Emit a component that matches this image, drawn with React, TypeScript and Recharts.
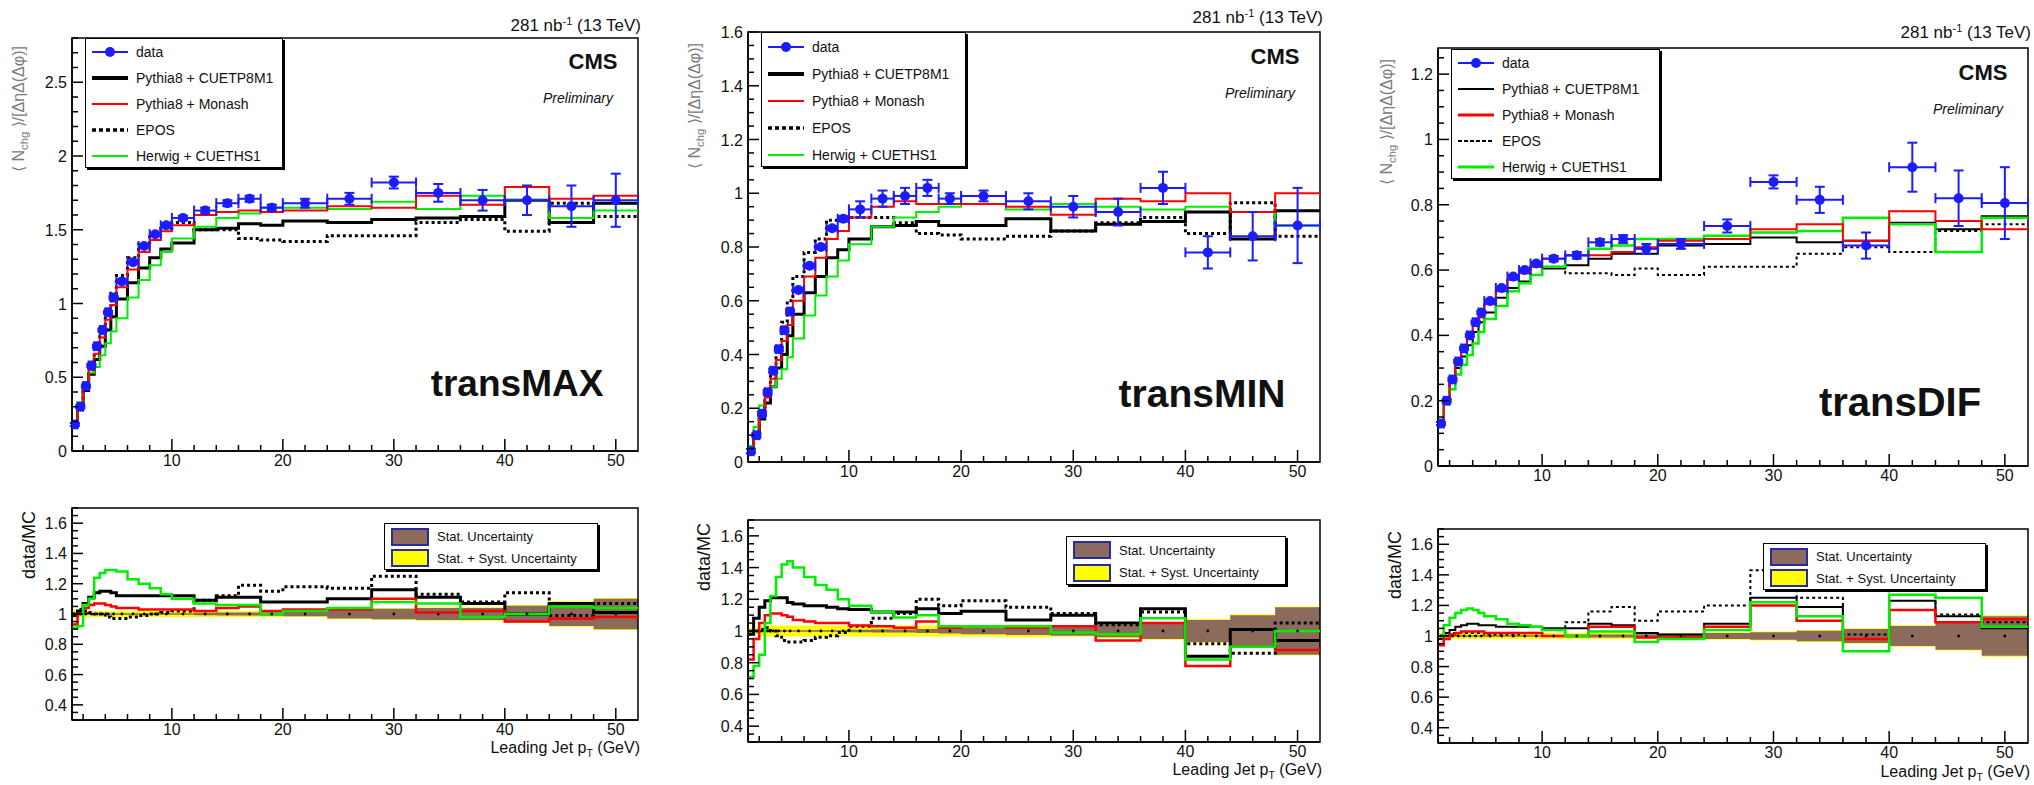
import React from "react";
import {
  ComposedChart,
  Line,
  Scatter,
  Area,
  XAxis,
  YAxis,
  ErrorBar,
  ReferenceArea,
} from "recharts";

const FONT = '"Liberation Sans", Arial, Helvetica, sans-serif';

// leading jet pT binning (GeV)
const binEdges = [1, 1.5, 2, 2.5, 3, 3.5, 4, 4.5, 5, 6, 7, 8, 9, 10, 12, 14, 16, 18, 20, 24, 28, 32, 36, 40, 44, 48, 52];
const binCenters = [1.25, 1.75, 2.25, 2.75, 3.25, 3.75, 4.25, 4.75, 5.5, 6.5, 7.5, 8.5, 9.5, 11, 13, 15, 17, 19, 22, 26, 30, 34, 38, 42, 46, 50];
const binHalfWidths = [0.25, 0.25, 0.25, 0.25, 0.25, 0.25, 0.25, 0.25, 0.5, 0.5, 0.5, 0.5, 0.5, 1, 1, 1, 1, 1, 2, 2, 2, 2, 2, 2, 2, 2];
const xTickLabels = [10, 20, 30, 40, 50];

// transMAX
const maxData = [0.18, 0.3, 0.44, 0.58, 0.71, 0.82, 0.94, 1.04, 1.15, 1.28, 1.39, 1.47, 1.53, 1.58, 1.63, 1.68, 1.71, 1.65, 1.68, 1.71, 1.82, 1.75, 1.7, 1.7, 1.66, 1.7];
const maxErr = [0.01, 0.01, 0.01, 0.01, 0.01, 0.01, 0.01, 0.01, 0.01, 0.01, 0.01, 0.01, 0.015, 0.015, 0.02, 0.02, 0.02, 0.02, 0.03, 0.04, 0.04, 0.06, 0.07, 0.1, 0.14, 0.18];
const maxCuetp = [0.18, 0.29, 0.41, 0.52, 0.62, 0.71, 0.82, 0.91, 1.03, 1.14, 1.24, 1.31, 1.37, 1.41, 1.5, 1.51, 1.54, 1.53, 1.56, 1.55, 1.57, 1.58, 1.59, 1.7, 1.55, 1.68];
const maxMonash = [0.19, 0.3, 0.42, 0.55, 0.66, 0.77, 0.89, 0.99, 1.11, 1.23, 1.35, 1.43, 1.49, 1.53, 1.6, 1.62, 1.63, 1.62, 1.63, 1.66, 1.65, 1.73, 1.67, 1.79, 1.71, 1.73];
const maxEpos = [0.18, 0.29, 0.43, 0.57, 0.71, 0.82, 0.96, 1.07, 1.19, 1.31, 1.4, 1.47, 1.51, 1.55, 1.5, 1.5, 1.44, 1.43, 1.42, 1.46, 1.46, 1.55, 1.57, 1.49, 1.68, 1.59];
const maxHerwig = [0.2, 0.33, 0.42, 0.53, 0.57, 0.65, 0.73, 0.81, 0.9, 1.04, 1.16, 1.26, 1.35, 1.44, 1.52, 1.58, 1.61, 1.65, 1.65, 1.64, 1.69, 1.64, 1.73, 1.7, 1.58, 1.63];
const maxRatioCuetp = [0.99, 1.02, 1.07, 1.11, 1.14, 1.15, 1.15, 1.14, 1.12, 1.12, 1.12, 1.12, 1.12, 1.12, 1.09, 1.11, 1.11, 1.08, 1.08, 1.1, 1.16, 1.11, 1.07, 1.0, 1.07, 1.01];
const maxRatioMonash = [0.93, 1.0, 1.04, 1.06, 1.07, 1.07, 1.06, 1.05, 1.04, 1.04, 1.03, 1.03, 1.03, 1.03, 1.02, 1.04, 1.05, 1.02, 1.03, 1.03, 1.1, 1.01, 1.02, 0.95, 0.97, 0.98];
const maxRatioEpos = [1.0, 1.03, 1.02, 1.01, 1.0, 1.0, 0.98, 0.97, 0.97, 0.98, 0.99, 1.0, 1.01, 1.02, 1.09, 1.12, 1.19, 1.15, 1.18, 1.17, 1.25, 1.13, 1.08, 1.14, 0.99, 1.07];
const maxRatioHerwig = [0.91, 0.92, 1.06, 1.1, 1.24, 1.27, 1.29, 1.29, 1.28, 1.23, 1.2, 1.17, 1.13, 1.1, 1.07, 1.06, 1.06, 1.0, 1.02, 1.04, 1.08, 1.07, 0.98, 1.0, 1.05, 1.04];
const maxStat = [0.005, 0.005, 0.005, 0.005, 0.005, 0.005, 0.005, 0.005, 0.005, 0.005, 0.005, 0.005, 0.005, 0.005, 0.008, 0.01, 0.01, 0.012, 0.015, 0.03, 0.035, 0.04, 0.04, 0.055, 0.08, 0.1];
const maxTotal = [0.03, 0.02, 0.02, 0.02, 0.02, 0.02, 0.02, 0.02, 0.02, 0.02, 0.02, 0.02, 0.02, 0.02, 0.02, 0.02, 0.02, 0.02, 0.02, 0.035, 0.04, 0.045, 0.045, 0.06, 0.085, 0.105];

// transMIN
const minData = [0.04, 0.1, 0.18, 0.26, 0.34, 0.42, 0.49, 0.56, 0.64, 0.73, 0.8, 0.87, 0.905, 0.94, 0.98, 0.99, 1.02, 0.98, 0.99, 0.97, 0.95, 0.93, 1.02, 0.78, 0.84, 0.88];
const minErr = [0.008, 0.008, 0.008, 0.008, 0.008, 0.008, 0.008, 0.008, 0.008, 0.008, 0.008, 0.008, 0.01, 0.03, 0.03, 0.03, 0.03, 0.02, 0.02, 0.03, 0.04, 0.05, 0.06, 0.06, 0.09, 0.14];
const minCuetp = [0.04, 0.09, 0.16, 0.22, 0.28, 0.35, 0.4, 0.47, 0.55, 0.63, 0.69, 0.76, 0.79, 0.83, 0.875, 0.88, 0.895, 0.88, 0.88, 0.905, 0.86, 0.885, 0.895, 0.93, 0.83, 0.935];
const minMonash = [0.05, 0.105, 0.17, 0.24, 0.31, 0.38, 0.45, 0.51, 0.6, 0.69, 0.76, 0.83, 0.86, 0.91, 0.95, 0.97, 0.96, 0.96, 0.96, 0.95, 0.92, 0.98, 0.97, 1.0, 0.93, 1.0];
const minEpos = [0.04, 0.1, 0.18, 0.25, 0.34, 0.43, 0.52, 0.6, 0.69, 0.78, 0.83, 0.9, 0.91, 0.91, 0.91, 0.89, 0.85, 0.845, 0.83, 0.84, 0.86, 0.89, 0.91, 0.85, 0.965, 0.84];
const minHerwig = [0.06, 0.13, 0.21, 0.25, 0.28, 0.31, 0.345, 0.39, 0.46, 0.545, 0.62, 0.69, 0.75, 0.81, 0.875, 0.91, 0.93, 0.95, 0.96, 0.94, 0.96, 0.95, 0.94, 0.95, 0.93, 0.88];
const minRatioCuetp = [0.98, 1.08, 1.15, 1.19, 1.21, 1.21, 1.21, 1.18, 1.17, 1.16, 1.16, 1.15, 1.14, 1.135, 1.12, 1.12, 1.14, 1.11, 1.125, 1.07, 1.1, 1.05, 1.14, 0.84, 1.01, 0.94];
const minRatioMonash = [0.82, 0.95, 1.05, 1.1, 1.11, 1.11, 1.1, 1.09, 1.07, 1.06, 1.05, 1.05, 1.05, 1.035, 1.03, 1.02, 1.06, 1.02, 1.03, 1.02, 1.03, 0.94, 1.05, 0.78, 0.9, 0.88];
const minRatioEpos = [0.98, 1.0, 1.01, 1.02, 1.0, 0.97, 0.94, 0.93, 0.93, 0.94, 0.96, 0.97, 0.99, 1.03, 1.08, 1.11, 1.2, 1.16, 1.19, 1.15, 1.11, 1.04, 1.12, 0.92, 0.86, 1.05];
const minRatioHerwig = [0.71, 0.78, 0.85, 1.05, 1.22, 1.34, 1.42, 1.44, 1.4, 1.34, 1.29, 1.26, 1.2, 1.16, 1.12, 1.085, 1.1, 1.03, 1.03, 1.03, 0.99, 0.98, 1.08, 0.82, 0.9, 1.0];
const minStat = [0.005, 0.005, 0.005, 0.005, 0.005, 0.005, 0.005, 0.005, 0.005, 0.005, 0.005, 0.005, 0.005, 0.008, 0.01, 0.01, 0.012, 0.015, 0.02, 0.025, 0.03, 0.04, 0.05, 0.07, 0.1, 0.15];
const minTotal = [0.02, 0.02, 0.035, 0.035, 0.035, 0.035, 0.035, 0.035, 0.035, 0.035, 0.035, 0.035, 0.035, 0.035, 0.035, 0.035, 0.035, 0.035, 0.035, 0.04, 0.035, 0.045, 0.055, 0.075, 0.105, 0.155];

// transDIF
const difData = [0.13, 0.2, 0.265, 0.32, 0.36, 0.4, 0.44, 0.47, 0.505, 0.545, 0.58, 0.6, 0.62, 0.635, 0.645, 0.685, 0.695, 0.665, 0.68, 0.735, 0.87, 0.815, 0.675, 0.915, 0.82, 0.805];
const difErr = [0.005, 0.005, 0.005, 0.005, 0.005, 0.005, 0.005, 0.005, 0.005, 0.005, 0.005, 0.005, 0.005, 0.008, 0.01, 0.01, 0.012, 0.015, 0.015, 0.02, 0.02, 0.04, 0.04, 0.075, 0.085, 0.11];
const difCuetp = [0.13, 0.195, 0.255, 0.3, 0.335, 0.37, 0.41, 0.44, 0.47, 0.515, 0.545, 0.565, 0.585, 0.605, 0.615, 0.635, 0.65, 0.65, 0.675, 0.68, 0.7, 0.685, 0.69, 0.745, 0.725, 0.765];
const difMonash = [0.14, 0.205, 0.26, 0.315, 0.35, 0.39, 0.43, 0.455, 0.495, 0.535, 0.57, 0.59, 0.61, 0.635, 0.645, 0.645, 0.655, 0.67, 0.69, 0.695, 0.725, 0.74, 0.69, 0.78, 0.75, 0.725];
const difEpos = [0.13, 0.2, 0.26, 0.315, 0.355, 0.39, 0.43, 0.46, 0.5, 0.54, 0.575, 0.59, 0.61, 0.61, 0.59, 0.59, 0.585, 0.605, 0.585, 0.61, 0.61, 0.65, 0.67, 0.655, 0.72, 0.74];
const difHerwig = [0.13, 0.19, 0.235, 0.28, 0.31, 0.34, 0.375, 0.41, 0.45, 0.49, 0.535, 0.56, 0.585, 0.61, 0.645, 0.665, 0.675, 0.695, 0.695, 0.705, 0.715, 0.72, 0.76, 0.74, 0.655, 0.76];
const difRatioCuetp = [0.98, 1.02, 1.04, 1.06, 1.07, 1.08, 1.08, 1.07, 1.07, 1.06, 1.06, 1.06, 1.06, 1.05, 1.05, 1.08, 1.07, 1.02, 1.01, 1.08, 1.25, 1.19, 0.98, 1.23, 1.13, 1.05];
const difRatioMonash = [0.94, 0.98, 1.01, 1.02, 1.03, 1.03, 1.03, 1.03, 1.02, 1.02, 1.02, 1.02, 1.02, 1.0, 1.0, 1.06, 1.06, 0.99, 0.99, 1.06, 1.2, 1.1, 0.98, 1.17, 1.09, 1.11];
const difRatioEpos = [1.0, 1.01, 1.02, 1.02, 1.02, 1.02, 1.02, 1.02, 1.01, 1.01, 1.01, 1.02, 1.02, 1.04, 1.09, 1.16, 1.19, 1.1, 1.16, 1.2, 1.43, 1.25, 1.01, 1.4, 1.14, 1.09];
const difRatioHerwig = [1.0, 1.07, 1.12, 1.15, 1.17, 1.18, 1.17, 1.15, 1.13, 1.11, 1.08, 1.07, 1.06, 1.04, 1.0, 1.03, 1.03, 0.96, 0.98, 1.04, 1.22, 1.13, 0.9, 1.27, 1.25, 1.06];
const difStat = [0.005, 0.005, 0.005, 0.005, 0.005, 0.005, 0.005, 0.005, 0.005, 0.005, 0.005, 0.005, 0.005, 0.005, 0.008, 0.01, 0.01, 0.012, 0.015, 0.02, 0.025, 0.035, 0.045, 0.065, 0.09, 0.13];
const difTotal = [0.02, 0.02, 0.02, 0.02, 0.02, 0.02, 0.02, 0.02, 0.02, 0.02, 0.02, 0.02, 0.02, 0.02, 0.02, 0.02, 0.02, 0.02, 0.02, 0.025, 0.03, 0.04, 0.05, 0.07, 0.095, 0.135];

const ratioTickLabels = [0.4, 0.6, 0.8, 1, 1.2, 1.4, 1.6];

const COLORS = { data: "#1c1cff", cuetp: "#000000", monash: "#ff0000", epos: "#000000", herwig: "#00ee00", stat: "#8c6b5c", total: "#ffff00" };

const range = (a: number, b: number, step: number) => {
  const out: number[] = [];
  for (let v = a; v <= b + 1e-9; v += step) out.push(Math.round(v * 1000) / 1000);
  return out;
};
const isIn = (list: number[], v: number) => list.some((m) => Math.abs(m - v) < 1e-6);

const stepRows = (vals: number[]) => binEdges.map((x, i) => ({ x, y: vals[Math.min(i, vals.length - 1)] }));
const bandRows = (half: number[]) =>
  binEdges.map((x, i) => {
    const h = half[Math.min(i, half.length - 1)];
    return { x, band: [1 - h, 1 + h] };
  });
const pointRows = (vals: number[], errs: number[]) =>
  binCenters.map((x, i) => ({ x, y: vals[i], ex: binHalfWidths[i], ey: errs[i] }));
const unityRows = binCenters.map((x) => ({ x, y: 1 }));

const xTick = (props: any) => {
  const { x, y, payload } = props;
  const major = isIn(xTickLabels, payload.value);
  return (
    <g>
      <line x1={x} x2={x} y1={y} y2={y - (major ? 12 : 6)} stroke="#000" strokeWidth={1.5} />
      {major && (
        <text x={x} y={y + 15} textAnchor="middle" fontSize={16} fontFamily={FONT} fill="#111">
          {payload.value}
        </text>
      )}
    </g>
  );
};

const makeYTick = (labels: number[]) => (props: any) => {
  const { x, y, payload } = props;
  const major = isIn(labels, payload.value);
  return (
    <g>
      <line x1={x} x2={x + (major ? 11 : 6)} y1={y} y2={y} stroke="#000" strokeWidth={1.5} />
      {major && (
        <text x={x - 5} y={y + 6} textAnchor="end" fontSize={16} fontFamily={FONT} fill="#111">
          {payload.value}
        </text>
      )}
    </g>
  );
};

type Frame = { left: number; right: number; top: number; bottom: number };

function Plot({ frame, yDomain, yLabels, yStep, children }: { frame: Frame; yDomain: [number, number]; yLabels: number[]; yStep: number; children: React.ReactNode }) {
  const w = frame.right - frame.left;
  const h = frame.bottom - frame.top;
  const yTicks = range(Math.ceil(yDomain[0] / yStep) * yStep, yDomain[1], yStep);
  return (
    <div style={{ position: "absolute", left: frame.left - 60, top: frame.top - 10 }}>
      <ComposedChart width={w + 64} height={h + 40} margin={{ top: 10, right: 4, bottom: 0, left: 0 }}>
        <XAxis
          type="number"
          dataKey="x"
          domain={[1, 52]}
          allowDataOverflow
          ticks={range(2, 50, 2)}
          interval={0}
          tickSize={0}
          tickMargin={0}
          tickLine={false}
          tick={xTick}
          height={30}
          axisLine={{ stroke: "#000", strokeWidth: 1.5 }}
        />
        <YAxis
          type="number"
          domain={yDomain}
          allowDataOverflow
          ticks={yTicks}
          interval={0}
          tickSize={0}
          tickMargin={0}
          tickLine={false}
          tick={makeYTick(yLabels)}
          width={60}
          axisLine={{ stroke: "#000", strokeWidth: 1.5 }}
        />
        {children}
        <ReferenceArea x1={1} x2={52} y1={yDomain[0]} y2={yDomain[1]} fill="none" fillOpacity={0} stroke="#000" strokeWidth={1.5} ifOverflow="visible" />
      </ComposedChart>
    </div>
  );
}

const stepLine = (vals: number[], color: string, width: number, dash?: string) => (
  <Line
    data={stepRows(vals)}
    dataKey="y"
    type="stepAfter"
    stroke={color}
    strokeWidth={width}
    strokeDasharray={dash}
    dot={false}
    activeDot={false}
    isAnimationActive={false}
  />
);

function MainLegend({ left, top, width, height, thin }: { left: number; top: number; width: number; height: number; thin?: boolean }) {
  const rows: { label: string; sw: React.ReactNode }[] = [
    {
      label: "data",
      sw: (
        <>
          <line x1={2} x2={38} y1={7} y2={7} stroke={COLORS.data} strokeWidth={2} />
          <circle cx={20} cy={7} r={5} fill={COLORS.data} />
        </>
      ),
    },
    { label: "Pythia8 + CUETP8M1", sw: <line x1={2} x2={38} y1={7} y2={7} stroke="#000" strokeWidth={thin ? 2 : 4} /> },
    { label: "Pythia8 + Monash", sw: <line x1={2} x2={38} y1={7} y2={7} stroke={COLORS.monash} strokeWidth={thin ? 3 : 2} /> },
    { label: "EPOS", sw: <line x1={2} x2={38} y1={7} y2={7} stroke="#000" strokeWidth={thin ? 2 : 3.5} strokeDasharray={thin ? "4 2" : "4 3"} /> },
    { label: "Herwig + CUETHS1", sw: <line x1={2} x2={38} y1={7} y2={7} stroke={COLORS.herwig} strokeWidth={thin ? 3 : 2} /> },
  ];
  const rowH = height / rows.length;
  return (
    <div style={{ position: "absolute", left, top, width, height, background: "#fff", border: "1.5px solid #000", boxShadow: "2px 2px 0 #000", boxSizing: "border-box" }}>
      {rows.map((r, i) => (
        <div key={r.label} style={{ position: "absolute", left: 4, top: i * rowH + rowH / 2 - 8, height: 16, display: "flex", alignItems: "center", whiteSpace: "nowrap" }}>
          <svg width={40} height={14} style={{ marginRight: 6 }}>{r.sw}</svg>
          <span style={{ fontSize: 14, fontFamily: FONT, color: "#111" }}>{r.label}</span>
        </div>
      ))}
    </div>
  );
}

function RatioLegend({ left, top, width, height }: { left: number; top: number; width: number; height: number }) {
  const rows = [
    { label: "Stat. Uncertainty", color: COLORS.stat },
    { label: "Stat. + Syst. Uncertainty", color: COLORS.total },
  ];
  const rowH = (height - 4) / 2;
  return (
    <div style={{ position: "absolute", left, top, width, height, background: "#fff", border: "1.5px solid #000", boxShadow: "2px 2px 0 #000", boxSizing: "border-box" }}>
      {rows.map((r, i) => (
        <div key={r.label} style={{ position: "absolute", left: 6, top: 2 + i * rowH + rowH / 2 - 9, height: 18, display: "flex", alignItems: "center", whiteSpace: "nowrap" }}>
          <div style={{ width: 34, height: 14, background: r.color, border: "2px solid #2a2aa0", marginRight: 8 }} />
          <span style={{ fontSize: 13, fontFamily: FONT, color: "#111" }}>{r.label}</span>
        </div>
      ))}
    </div>
  );
}

const Txt = ({ x, y, size, children, align = "center", weight, italic, color = "#111" }: any) => {
  const tx = align === "center" ? "-50%" : align === "right" ? "-100%" : "0";
  return (
    <div
      style={{
        position: "absolute",
        left: x,
        top: y,
        transform: `translate(${tx}, -50%)`,
        fontSize: size,
        fontFamily: FONT,
        fontWeight: weight,
        fontStyle: italic ? "italic" : undefined,
        color,
        whiteSpace: "nowrap",
        lineHeight: 1,
      }}
    >
      {children}
    </div>
  );
};

const RotTxt = ({ x, y, size, children, color = "#111" }: any) => (
  <div
    style={{
      position: "absolute",
      left: x,
      top: y,
      transform: "translate(-50%, -50%) rotate(-90deg)",
      fontSize: size,
      fontFamily: FONT,
      color,
      whiteSpace: "nowrap",
      lineHeight: 1,
    }}
  >
    {children}
  </div>
);

const NchgTitle = () => (
  <span>
    ⟨ N<sub style={{ fontSize: "70%" }}>chg</sub> ⟩/[ΔηΔ(Δφ)]
  </span>
);

type PanelSpec = {
  name: string;
  nameSize: number;
  main: Frame;
  ratio: Frame;
  yMax: number;
  yLabels: number[];
  yStep: number;
  data: number[];
  err: number[];
  cuetp: number[];
  monash: number[];
  epos: number[];
  herwig: number[];
  rCuetp: number[];
  rMonash: number[];
  rEpos: number[];
  rHerwig: number[];
  stat: number[];
  total: number[];
  thin?: boolean;
  lumiY: number;
  cmsY: number;
  nameX: number;
  nameY: number;
  legend: { left: number; top: number; width: number; height: number };
  rLegend: { left: number; top: number; width: number; height: number };
  yTitle: { x: number; y: number };
  rTitle: { x: number; y: number };
  xTitleY: number;
};

const panels: PanelSpec[] = [
  {
    name: "transMAX", nameSize: 37,
    main: { left: 72, right: 638, top: 38, bottom: 451 },
    ratio: { left: 72, right: 638, top: 508, bottom: 720 },
    yMax: 2.8, yLabels: [0, 0.5, 1, 1.5, 2, 2.5], yStep: 0.1,
    data: maxData, err: maxErr, cuetp: maxCuetp, monash: maxMonash, epos: maxEpos, herwig: maxHerwig,
    rCuetp: maxRatioCuetp, rMonash: maxRatioMonash, rEpos: maxRatioEpos, rHerwig: maxRatioHerwig,
    stat: maxStat, total: maxTotal,
    lumiY: 25, cmsY: 62, nameX: 517, nameY: 383,
    legend: { left: 85, top: 38, width: 198, height: 130 },
    rLegend: { left: 384, top: 523, width: 214, height: 47 },
    yTitle: { x: 21, y: 109 }, rTitle: { x: 29, y: 545 }, xTitleY: 750,
  },
  {
    name: "transMIN", nameSize: 39,
    main: { left: 748, right: 1320, top: 32, bottom: 462 },
    ratio: { left: 748, right: 1320, top: 520, bottom: 742 },
    yMax: 1.6, yLabels: [0, 0.2, 0.4, 0.6, 0.8, 1, 1.2, 1.4, 1.6], yStep: 0.05,
    data: minData, err: minErr, cuetp: minCuetp, monash: minMonash, epos: minEpos, herwig: minHerwig,
    rCuetp: minRatioCuetp, rMonash: minRatioMonash, rEpos: minRatioEpos, rHerwig: minRatioHerwig,
    stat: minStat, total: minTotal,
    lumiY: 17, cmsY: 57, nameX: 1202, nameY: 393,
    legend: { left: 761, top: 32, width: 205, height: 135 },
    rLegend: { left: 1066, top: 536, width: 220, height: 49 },
    yTitle: { x: 697, y: 106 }, rTitle: { x: 704, y: 557 }, xTitleY: 772,
  },
  {
    name: "transDIF", nameSize: 40,
    main: { left: 1438, right: 2028, top: 48, bottom: 466 },
    ratio: { left: 1438, right: 2028, top: 529, bottom: 743 },
    yMax: 1.28, yLabels: [0, 0.2, 0.4, 0.6, 0.8, 1, 1.2], yStep: 0.05,
    data: difData, err: difErr, cuetp: difCuetp, monash: difMonash, epos: difEpos, herwig: difHerwig,
    rCuetp: difRatioCuetp, rMonash: difRatioMonash, rEpos: difRatioEpos, rHerwig: difRatioHerwig,
    stat: difStat, total: difTotal, thin: true,
    lumiY: 32, cmsY: 73, nameX: 1900, nameY: 402,
    legend: { left: 1451, top: 49, width: 209, height: 130 },
    rLegend: { left: 1763, top: 543, width: 223, height: 47 },
    yTitle: { x: 1389, y: 122 }, rTitle: { x: 1395, y: 565 }, xTitleY: 774,
  },
];

function Panel({ p }: { p: PanelSpec }) {
  const blackW = p.thin ? 2 : 3;
  return (
    <>
      <Plot frame={p.main} yDomain={[0, p.yMax]} yLabels={p.yLabels} yStep={p.yStep}>
        {stepLine(p.epos, COLORS.epos, p.thin ? 2 : 3, "3 3")}
        {stepLine(p.cuetp, COLORS.cuetp, blackW)}
        {stepLine(p.herwig, COLORS.herwig, p.thin ? 2.5 : 2)}
        {stepLine(p.monash, COLORS.monash, 2)}
        <Scatter
          data={pointRows(p.data, p.err)}
          dataKey="y"
          isAnimationActive={false}
          shape={(s: any) => <circle cx={s.cx} cy={s.cy} r={5} fill={COLORS.data} />}
        >
          <ErrorBar dataKey="ex" direction="x" width={5} stroke={COLORS.data} strokeWidth={2} isAnimationActive={false} />
          <ErrorBar dataKey="ey" direction="y" width={5} stroke={COLORS.data} strokeWidth={2} isAnimationActive={false} />
        </Scatter>
      </Plot>
      <Plot frame={p.ratio} yDomain={[0.3, 1.7]} yLabels={ratioTickLabels} yStep={0.05}>
        <Area data={bandRows(p.total)} dataKey="band" type="stepAfter" fill={COLORS.total} fillOpacity={1} stroke="none" isAnimationActive={false} />
        <Area data={bandRows(p.stat)} dataKey="band" type="stepAfter" fill={COLORS.stat} fillOpacity={1} stroke="none" isAnimationActive={false} />
        <Scatter data={unityRows} dataKey="y" isAnimationActive={false} shape={(s: any) => <circle cx={s.cx} cy={s.cy} r={1.4} fill="#000" />} />
        {stepLine(p.rEpos, COLORS.epos, p.thin ? 2 : 3, "3 3")}
        {stepLine(p.rCuetp, COLORS.cuetp, blackW)}
        {stepLine(p.rMonash, COLORS.monash, 2.5)}
        {stepLine(p.rHerwig, COLORS.herwig, 2.5)}
      </Plot>
      <MainLegend {...p.legend} thin={p.thin} />
      <RatioLegend {...p.rLegend} />
      <Txt x={p.main.right + 3} y={p.lumiY} size={17} align="right">
        281 nb<sup style={{ fontSize: "65%" }}>-1</sup> (13 TeV)
      </Txt>
      <Txt x={p.main.right - 45} y={p.cmsY} size={22} weight="bold" align="center">CMS</Txt>
      <Txt x={p.main.right - 60} y={p.cmsY + 36} size={14} italic align="center">Preliminary</Txt>
      <Txt x={p.nameX} y={p.nameY} size={p.nameSize} weight="bold" align="center">{p.name}</Txt>
      <RotTxt x={p.yTitle.x} y={p.yTitle.y} size={16} color="#7a7a7a">
        <NchgTitle />
      </RotTxt>
      <RotTxt x={p.rTitle.x} y={p.rTitle.y} size={18}>data/MC</RotTxt>
      <Txt x={p.ratio.right + 2} y={p.xTitleY} size={16} align="right">
        Leading Jet p<sub style={{ fontSize: "65%" }}>T</sub> (GeV)
      </Txt>
    </>
  );
}

export default function App() {
  return (
    <div style={{ position: "absolute", left: 0, top: 0, width: 2034, height: 785, overflow: "hidden", background: "#fff", fontFamily: FONT }}>
      {panels.map((p) => (
        <Panel key={p.name} p={p} />
      ))}
    </div>
  );
}
